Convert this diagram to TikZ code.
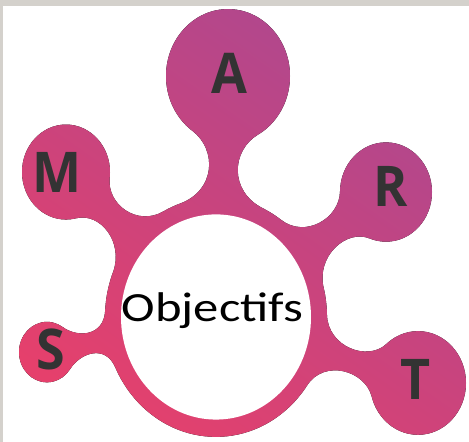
\documentclass[tikz,border=0pt]{standalone}
\usepackage{fontspec}
\setmainfont{Carlito}
\newfontfamily\letterfont{Open Sans}
\usetikzlibrary{calc}
\definecolor{smartpink}{HTML}{E5406C}
\definecolor{smartpurple}{HTML}{AC4890}
\definecolor{framegray}{HTML}{D4D1CC}
\definecolor{lettergray}{HTML}{333333}
\tikzset{
  blob/.style={path picture={\shade[bottom color=smartpink, top color=smartpurple, shading angle=-35] (0,10) rectangle (469,-420);}},
  letter/.style={text=lettergray, inner sep=0pt, yscale=1.08, font=\letterfont\bfseries\fontsize{52}{52}\selectfont},
}

\begin{document}
\begin{tikzpicture}[x=1pt, y=1.08pt]
\useasboundingbox (0pt,0pt) rectangle (469pt,-442pt);
%\node {\includegraphics{smart.png}};
\fill[white] (0pt,0pt) rectangle (469pt,-442pt);
\fill[framegray] (0pt,0pt) rectangle (469pt,-6pt);
\fill[framegray] (0pt,0pt) rectangle (3pt,-442pt);

\coordinate (ring) at (216,-293.5);
\coordinate (cA) at (228,-70.4);
\coordinate (cM) at (66,-159.3);
\coordinate (cR) at (386,-177.8);
\coordinate (cS) at (47,-326);
\coordinate (cT) at (418,-354.6);

% ring, satellites and necks in one path
\fill[blob] (ring) circle[radius=111]
  (cA) circle[radius=62]
  (cM) circle[radius=44]
  (cR) circle[radius=46]
  (cS) circle[radius=28]
  (cT) circle[radius=48]
  % A
  ($(ring)+(64.9:111)$) .. controls +(154.9:38) and +(208.9:30) .. ($(cA)+(298.9:62)$)
  -- ($(cA)+(234.9:62)$) .. controls +(-35.1:30) and +(18.9:38) .. ($(ring)+(108.9:111)$) -- cycle
  % M
  ($(ring)+(118.2:111)$) .. controls +(208.2:30) and +(263.2:25) .. ($(cM)+(353.2:44)$)
  -- ($(cM)+(283.2:44)$) .. controls +(13.2:25) and +(68.2:30) .. ($(ring)+(158.2:111)$) -- cycle
  % R
  ($(ring)+(14.2:111)$) .. controls +(104.2:30) and +(159.2:25) .. ($(cR)+(249.2:46)$)
  -- ($(cR)+(179.2:46)$) .. controls +(-90.8:25) and +(-35.8:30) .. ($(ring)+(54.2:111)$) -- cycle
  % S
  ($(ring)+(176.9:111)$) .. controls +(266.9:24) and +(325.9:18) .. ($(cS)+(55.9:28)$)
  -- ($(cS)+(325.9:28)$) .. controls +(55.9:18) and +(114.9:24) .. ($(ring)+(204.9:111)$) -- cycle
  % T
  ($(ring)+(-34.8:111)$) .. controls +(55.2:30) and +(105.2:25) .. ($(cT)+(195.2:48)$)
  -- ($(cT)+(131.2:48)$) .. controls +(-138.8:25) and +(-88.8:30) .. ($(ring)+(1.2:111)$) -- cycle;

% centre
\fill[white] (ring) circle[radius=95];
\node[anchor=base, xscale=1.22, font=\fontsize{41.5}{41.5}\selectfont] (obj) at (212.5,-298.1) {Objectifs};

\node[letter] (A) at (229,-67.6) {A};
\node[letter] (M) at (57,-159.3) {M};
\node[letter] (R) at (391,-172.2) {R};
\node[letter] (S) at (51,-323.1) {S};
\node[letter] (T) at (416,-350.9) {T};

\end{tikzpicture}
\end{document}
